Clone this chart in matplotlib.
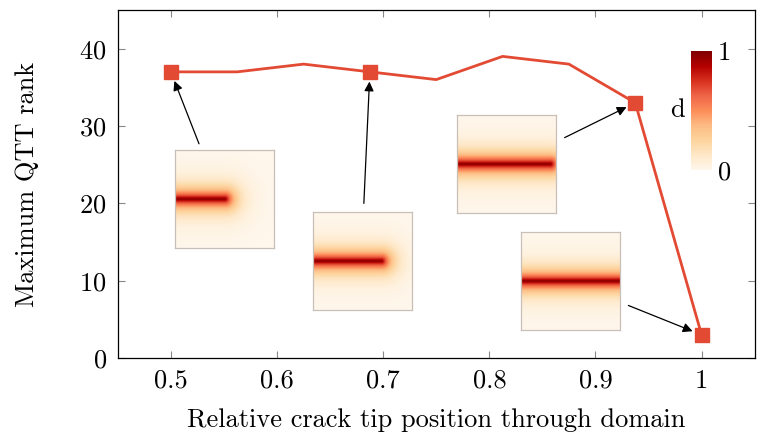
import numpy as np
import matplotlib
matplotlib.use("Agg")
import matplotlib.pyplot as plt

plt.rcParams['font.family'] = 'serif'
plt.rcParams['font.serif'] = ['cmr10', 'DejaVu Serif']
plt.rcParams['mathtext.fontset'] = 'cm'
plt.rcParams['axes.formatter.use_mathtext'] = True

# data
tip_pos = [0.5, 0.5625, 0.625, 0.6875, 0.75, 0.8125, 0.875, 0.9375, 1.0]
max_rank = [37, 37, 38, 37, 36, 39, 38, 33, 3]
marked = [0, 3, 7, 8]  # indices that get a marker and an inset
xticks = [0.5, 0.6, 0.7, 0.8, 0.9, 1.0]
xtick_labels = ['0.5', '0.6', '0.7', '0.8', '0.9', '1']
yticks = [0, 10, 20, 30, 40]

line_col = '#e34a33'

fig = plt.figure(figsize=(7.6, 4.34), dpi=100)
ax = fig.add_axes([0.155, 0.175, 0.838, 0.802])

ax.plot(tip_pos, max_rank, color=line_col, lw=2.0, zorder=3)
ax.plot([tip_pos[i] for i in marked], [max_rank[i] for i in marked], 's',
        color=line_col, ms=9.5, zorder=4)

ax.set_xlim(0.45, 1.05)
ax.set_ylim(0, 45)
ax.set_xticks(xticks)
ax.set_xticklabels(xtick_labels)
ax.set_yticks(yticks)
ax.tick_params(direction='in', length=5, color='#888888', top=True, right=True,
               labelsize=19, pad=8)
for s in ax.spines.values():
    s.set_linewidth(0.9)
ax.set_xlabel('Relative crack tip position through domain', fontsize=19, labelpad=11)
ax.set_ylabel('Maximum QTT rank', fontsize=19, labelpad=29)


# damage field around a horizontal crack from the left edge up to the tip
def damage(a, n=200, ell=0.095):
    g = np.linspace(0, 1, n)
    X, Y = np.meshgrid(g, g)
    dx = np.maximum(X - a, 0)
    dist = np.sqrt(dx ** 2 + (Y - 0.5) ** 2)
    return np.exp(-dist / ell)


# inset positions (figure fraction) and arrow starts (data coords)
inset_boxes = [[0.2303, 0.4286, 0.1303, 0.2258],
               [0.4118, 0.2857, 0.1303, 0.2258],
               [0.6013, 0.5092, 0.1303, 0.2258],
               [0.6855, 0.2396, 0.1303, 0.2258]]
arrow_from = [(0.5265, 27.7), (0.6818, 20.0), (0.871, 28.5), (0.931, 6.8)]

for k, i in enumerate(marked):
    ax.annotate('', xy=(tip_pos[i], max_rank[i]), xytext=arrow_from[k],
                arrowprops=dict(arrowstyle='-|>', color='black', lw=0.9,
                                mutation_scale=14, shrinkA=0, shrinkB=7))
    iax = fig.add_axes(inset_boxes[k])
    iax.imshow(damage(tip_pos[i]), cmap='OrRd', vmin=0, vmax=1,
               extent=[0, 1, 0, 1], aspect='auto', interpolation='bilinear')
    iax.set_xticks([])
    iax.set_yticks([])
    for s in iax.spines.values():
        s.set_color('#c8c0b8')
        s.set_linewidth(0.9)

# colorbar
cax = fig.add_axes([0.9092, 0.6083, 0.0276, 0.274])
grad = np.linspace(0, 1, 256).reshape(-1, 1)
cax.imshow(grad, cmap='OrRd', aspect='auto', origin='lower', extent=[0, 1, 0, 1])
cax.set_xticks([])
cax.set_yticks([0, 1])
cax.set_yticklabels(['0', '1'])
cax.yaxis.tick_right()
cax.tick_params(length=0, labelsize=19, pad=4)
for s in cax.spines.values():
    s.set_visible(False)
cax.set_ylabel('d', fontsize=19, rotation=0, labelpad=10, va='center')

fig.savefig('out.png', dpi=100)
